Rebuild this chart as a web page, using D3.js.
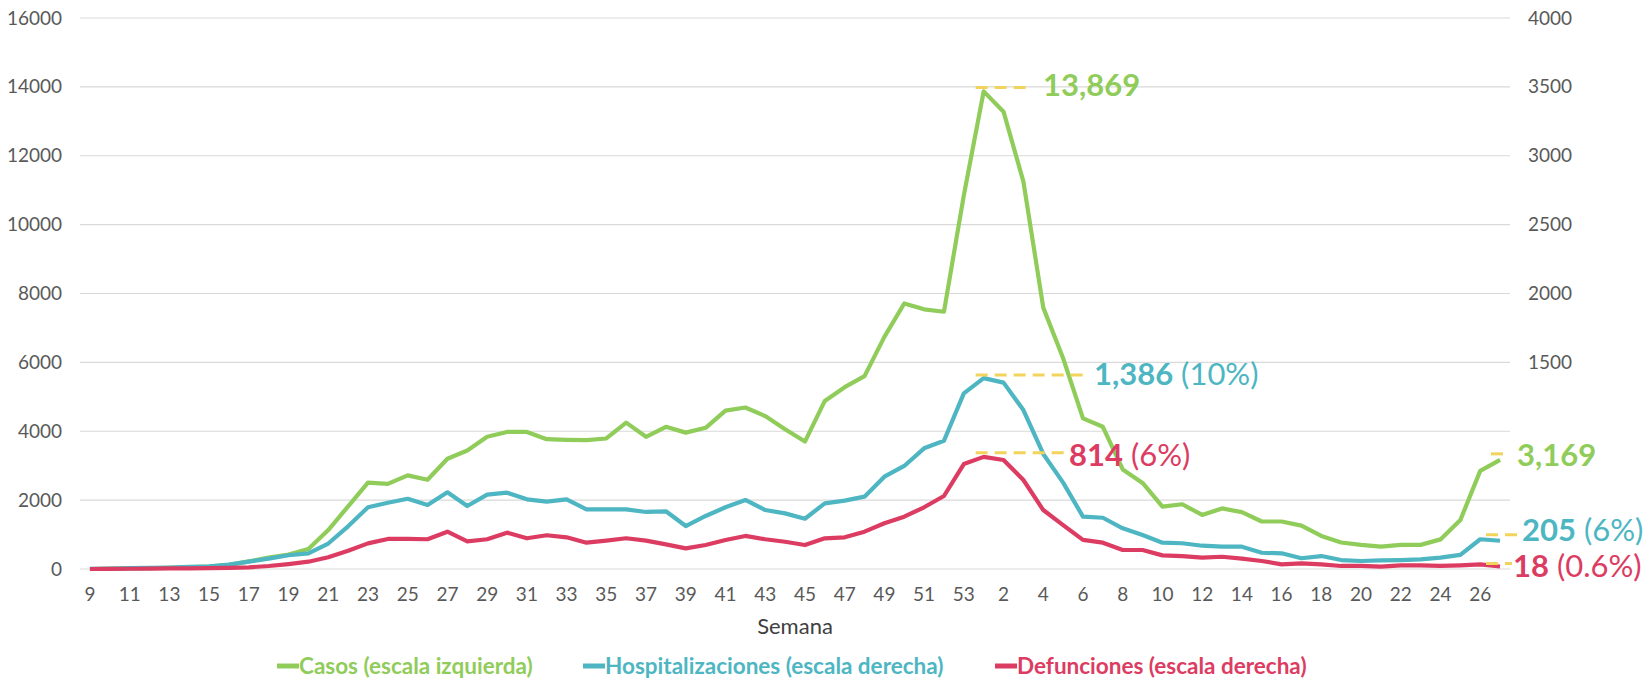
<!DOCTYPE html>
<html>
<head>
<meta charset="utf-8">
<script src="https://cdn.jsdelivr.net/npm/d3@7"></script>
<style>
  body { margin: 0; background: #fff; }
  svg text { font-family: Lato, "Open Sans", sans-serif; }
  .tick text { fill: #595959; font-size: 19px; }
</style>
</head>
<body>
<div id="chart"></div>
<script>
// semanas 2020 (9-53) y 2021 (1-27)
var semanas = [9,10,11,12,13,14,15,16,17,18,19,20,21,22,23,24,25,26,27,28,29,30,31,32,33,34,35,36,37,38,39,40,41,42,43,44,45,46,47,48,49,50,51,52,53,
	1,2,3,4,5,6,7,8,9,10,11,12,13,14,15,16,17,18,19,20,21,22,23,24,25,26,27];

var casos = [0,8,15,22,35,50,70,120,220,330,420,580,1130,1820,2510,2470,2720,2590,3200,3440,3840,3980,3980,3770,3750,3740,3790,4250,3840,4130,3960,4100,4600,4690,4440,4060,3700,4880,5280,5600,6740,7710,7540,7470,10850,
	13869,13280,11250,7590,6120,4375,4130,2890,2500,1810,1880,1570,1760,1650,1380,1380,1260,960,770,700,650,700,700,860,1420,2850,3169];

var hospitalizaciones = [1,3,6,8,10,15,20,32,53,75,100,114,185,310,448,481,510,465,557,457,540,554,506,489,506,433,433,433,414,419,312,385,448,501,428,404,365,477,496,525,670,748,876,931,1275,
	1386,1353,1154,835,627,380,372,295,247,191,187,169,162,162,118,114,78,94,65,58,63,65,70,82,102,216,205];

var defunciones = [0,1,2,3,4,5,6,8,12,22,36,53,85,133,186,218,218,216,271,201,216,264,223,245,230,191,206,223,206,179,150,174,211,240,216,198,174,223,230,271,332,380,448,530,762,
	814,791,646,428,319,211,191,138,138,99,94,82,89,75,58,34,41,34,22,22,17,27,27,22,27,34,18];

var leftTicks = [0,2000,4000,6000,8000,10000,12000,14000,16000];
var rightTicks = [1500,2000,2500,3000,3500,4000];

var verde = '#90cc5a', azul = '#4db6c2', rojo = '#dc3c62', amarillo = '#f2d35c';

var width = 1652, height = 683;
var plotLeft = 80, plotRight = 1510, plotTop = 18, plotBottom = 569;

var svg = d3.select('#chart')
	.append('svg')
	.attr('width', width)
	.attr('height', height);

var x = d3.scaleBand()
	.domain(d3.range(semanas.length))
	.range([plotLeft, plotRight]);
var cx = function(i) { return x(i) + x.bandwidth()/2; };

var yL = d3.scaleLinear().domain([0, 16000]).range([plotBottom, plotTop]);
var yR = d3.scaleLinear().domain([0, 4000]).range([plotBottom, plotTop]);

// gridlines
svg.append('g')
	.selectAll('line')
	.data(leftTicks)
	.enter()
	.append('line')
	.attr('x1', plotLeft)
	.attr('x2', plotRight)
	.attr('y1', function(d) { return yL(d); })
	.attr('y2', function(d) { return yL(d); })
	.style('stroke', '#d9d9d9')
	.style('stroke-width', 1.2);

// axes
var axisLeft = svg.append('g')
	.attr('transform', 'translate(' + (plotLeft - 18) + ',0)')
	.call(d3.axisLeft(yL).tickValues(leftTicks).tickFormat(d3.format('d')).tickSize(0).tickPadding(0));
axisLeft.select('.domain').remove();

var axisRight = svg.append('g')
	.attr('transform', 'translate(' + (plotRight + 18) + ',0)')
	.call(d3.axisRight(yR).tickValues(rightTicks).tickFormat(d3.format('d')).tickSize(0).tickPadding(0));
axisRight.select('.domain').remove();

var axisBottom = svg.append('g')
	.attr('transform', 'translate(0,' + (plotBottom + 18) + ')')
	.call(d3.axisBottom(x)
		.tickValues(d3.range(0, semanas.length, 2))
		.tickFormat(function(i) { return semanas[i]; })
		.tickSize(0).tickPadding(0));
axisBottom.select('.domain').remove();
axisBottom.selectAll('text').attr('dy', '0.71em');

svg.append('text')
	.text('Semana')
	.attr('x', (plotLeft + plotRight)/2)
	.attr('y', 634)
	.attr('text-anchor', 'middle')
	.style('font-size', '22px')
	.style('fill', '#404040');

// series
var series = [
	{ nombre: 'Casos (escala izquierda)', valores: casos, y: yL, color: verde },
	{ nombre: 'Hospitalizaciones (escala derecha)', valores: hospitalizaciones, y: yR, color: azul },
	{ nombre: 'Defunciones (escala derecha)', valores: defunciones, y: yR, color: rojo }
];

series.forEach(function(s) {
	var line = d3.line()
		.x(function(d, i) { return cx(i); })
		.y(function(d) { return s.y(d); });
	svg.append('path')
		.datum(s.valores)
		.attr('d', line)
		.style('fill', 'none')
		.style('stroke', s.color)
		.style('stroke-width', 4.2)
		.style('stroke-linejoin', 'round');
});

// annotations
var fmt = d3.format(',');
function anota(valor, escala, idx, x1, x2, dy, tx, ty, color, pct) {
	var yy = escala(valor) + dy;
	svg.append('line')
		.attr('x1', x1 === null ? cx(idx) - 8 : x1)
		.attr('x2', x2)
		.attr('y1', yy)
		.attr('y2', yy)
		.style('stroke', amarillo)
		.style('stroke-width', 3)
		.style('stroke-dasharray', '12,7');
	var t = svg.append('text')
		.attr('x', tx)
		.attr('y', ty)
		.attr('dy', '0.35em')
		.style('font-size', '31px')
		.style('fill', color);
	t.append('tspan').text(fmt(valor)).style('font-weight', 'bold');
	if (pct) t.append('tspan').text(' (' + pct + ')');
}

var iPico = 45, iUlt = semanas.length - 1;
anota(casos[iPico], yL, iPico, null, 1032, -4, 1043, 85, verde, null);
anota(hospitalizaciones[iPico], yR, iPico, null, 1084, -3, 1094, 374, azul, '10%');
anota(defunciones[iPico], yR, iPico, null, 1064, -4, 1069, 455, rojo, '6%');
anota(casos[iUlt], yL, iUlt, 1491, 1506, -6, 1517, 455, verde, null);
anota(hospitalizaciones[iUlt], yR, iUlt, 1486, 1518, -6, 1522, 530, azul, '6%');
anota(defunciones[iUlt], yR, iUlt, 1486, 1512, -3, 1513, 566, rojo, '0.6%');

// legend
var legendX = [277, 583, 995];
var legend = svg.append('g').attr('transform', 'translate(0,666)');
series.forEach(function(s, i) {
	legend.append('line')
		.attr('x1', legendX[i])
		.attr('x2', legendX[i] + 22)
		.attr('y1', 0)
		.attr('y2', 0)
		.style('stroke', s.color)
		.style('stroke-width', 5);
	legend.append('text')
		.text(s.nombre)
		.attr('x', legendX[i] + 22)
		.attr('y', 0)
		.attr('dy', '0.35em')
		.style('font-size', '22.5px')
		.style('font-weight', 'bold')
		.style('fill', s.color);
});
</script>
</body>
</html>
